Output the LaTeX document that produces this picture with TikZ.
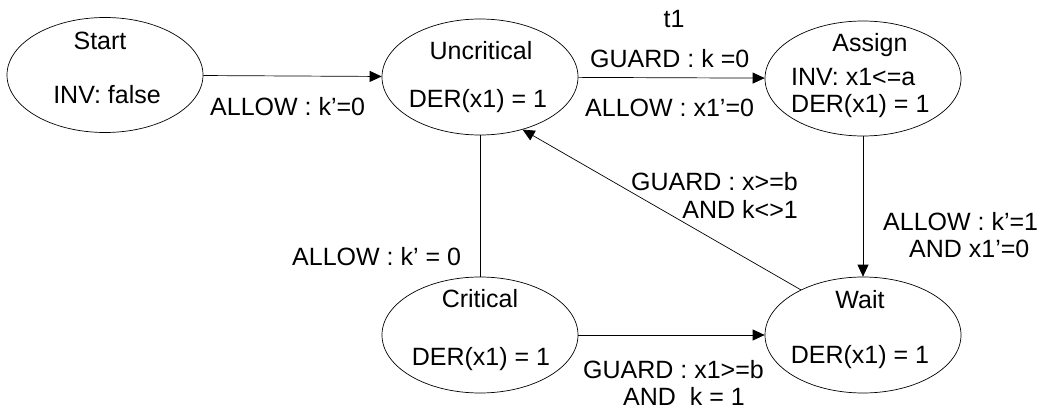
\documentclass[tikz,border=0pt]{standalone}
\usepackage{fontspec}
\setmainfont{Liberation Sans}
\usetikzlibrary{shapes.geometric,arrows.meta}
\begin{document}
\begin{tikzpicture}[x=1pt,y=-1pt,
  state/.style={draw, ellipse, line width=0.7pt, minimum width=196pt, minimum height=116pt, inner sep=0pt},
  txt/.style={font=\fontsize{25}{30}\selectfont, inner sep=0pt},
  conn/.style={line width=0.7pt},
  arr/.style={conn, -{Triangle[length=12pt,width=11pt]}}]
\useasboundingbox (0,0) rectangle (1045,412);
% states
\node[state, minimum height=115pt] (S) at (105,75) {};
\node[state] (U) at (480,77) {};
\node[state, minimum height=115pt] (A) at (863,78.5) {};
\node[state] (C) at (480,335) {};
\node[state] (W) at (863,335) {};
% state texts
\node[txt, anchor=base] (s1) at (100,50) {Start};
\node[txt, anchor=base] (s2) at (107,103) {INV: false};
\node[txt, anchor=base] (u1) at (481,60) {Uncritical};
\node[txt, anchor=base] (u2) at (478,107) {DER(x1) = 1};
\node[txt, anchor=base] (a1) at (870,52) {Assign};
\node[txt, anchor=base west] (a2) at (791,85) {INV: x1<=a};
\node[txt, anchor=base west] (a3) at (791,113) {DER(x1) = 1};
\node[txt, anchor=base] (c1) at (480,307) {Critical};
\node[txt, anchor=base] (c2) at (481,365) {DER(x1) = 1};
\node[txt, anchor=base] (w1) at (860,308) {Wait};
\node[txt, anchor=base] (w2) at (860,363) {DER(x1) = 1};
% connectors
\draw[arr] (S) -- (U);
\draw[arr] (U) -- (A);
\draw[conn] (U) -- (C);
\draw[arr] (A) -- (W);
\draw[arr] (C) -- (W);
\draw[arr] (W.144) -- (U.-51);
% connector labels
\node[txt, anchor=base west] (l1) at (210,116) {ALLOW : k’=0};
\node[txt, anchor=base] (l2) at (674,28) {t1};
\node[txt, anchor=base west] (l3) at (590,67) {GUARD : k =0};
\node[txt, anchor=base west] (l4) at (585,117) {ALLOW : x1’=0};
\node[txt, anchor=base west] (l5) at (292,265) {ALLOW : k’ = 0};
\node[txt, anchor=base east] (l6) at (798,190) {GUARD : x>=b};
\node[txt, anchor=base east] (l7) at (798,218) {AND k<>1};
\node[txt, anchor=base west] (l8) at (883,230) {ALLOW : k’=1};
\node[txt, anchor=base west] (l9) at (909,257) {AND x1’=0};
\node[txt, anchor=base west] (l10) at (583,378) {GUARD : x1>=b};
\node[txt, anchor=base west] (l11) at (623,405) {AND\ \ k = 1};
\end{tikzpicture}
\end{document}
